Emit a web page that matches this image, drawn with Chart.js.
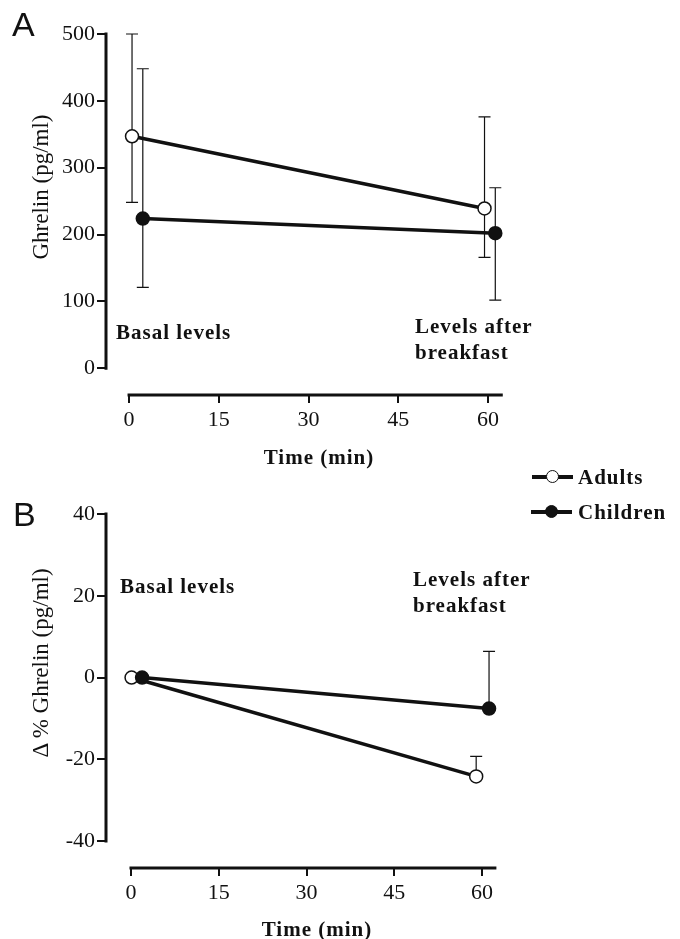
<!DOCTYPE html>
<html>
<head>
<meta charset="utf-8">
<script src="https://cdn.jsdelivr.net/npm/chart.js@4.4.1/dist/chart.umd.min.js"></script>
<style>
  body { margin: 0; background: #fff; }
  #page { position: relative; width: 680px; height: 939px; overflow: hidden; }
  canvas { position: absolute; left: 0; }
  #chartA { top: 0; }
  #chartB { top: 480px; }
  .txt { position: absolute; color: #111; white-space: nowrap; }
  .bold { font-family: "Liberation Serif", serif; font-weight: bold; font-size: 21px; letter-spacing: 1px; line-height: 26px; }
  .panel { font-family: "Liberation Sans", sans-serif; font-size: 34px; line-height: 1; }
  .ytitle { font-family: "Liberation Serif", serif; font-size: 23px; line-height: 1; transform: translate(-50%, -50%) rotate(-90deg); }
  .xtitle { transform: translateX(-50%); }
  .sym { position: absolute; width: 41px; height: 4px; background: #111; }
  .sym i { position: absolute; left: 14px; top: -5px; width: 11px; height: 11px; border: 1.5px solid #111; border-radius: 50%; box-sizing: content-box; }
</style>
</head>
<body>
<div id="page">
  <canvas id="chartA" width="680" height="480"></canvas>
  <canvas id="chartB" width="680" height="459"></canvas>

  <div class="txt panel" style="left:12px; top:7px;">A</div>
  <div class="txt panel" style="left:13px; top:497px;">B</div>

  <div class="txt ytitle" style="left:40px; top:187px;">Ghrelin (pg/ml)</div>
  <div class="txt ytitle" style="left:40px; top:663px;">Δ % Ghrelin (pg/ml)</div>

  <div class="txt bold xtitle" style="left:319px; top:444px;">Time (min)</div>
  <div class="txt bold xtitle" style="left:317px; top:916px;">Time (min)</div>

  <div class="txt bold" style="left:116px; top:319px;">Basal levels</div>
  <div class="txt bold" style="left:415px; top:313px;">Levels after<br>breakfast</div>
  <div class="txt bold" style="left:120px; top:573px;">Basal levels</div>
  <div class="txt bold" style="left:413px; top:566px;">Levels after<br>breakfast</div>

  <div class="sym" style="left:532px; top:475px;"><i style="background:#fff;"></i></div>
  <div class="txt bold" style="left:578px; top:464px;">Adults</div>
  <div class="sym" style="left:531px; top:510px;"><i style="background:#111;"></i></div>
  <div class="txt bold" style="left:578px; top:499px;">Children</div>
</div>

<script>
// Panel A: absolute ghrelin (pg/ml)
const timeAdultsA = [0.5, 59.4];
const ghrelinAdults = [347, 239];
const ghrelinAdultsHi = [500, 376];
const ghrelinAdultsLo = [248, 166];
const timeChildrenA = [2.3, 61.2];
const ghrelinChildren = [224, 202];
const ghrelinChildrenHi = [448, 270];
const ghrelinChildrenLo = [121, 102];

// Panel B: change from basal (%)
const timeAdultsB = [0.1, 59.0];
const deltaAdults = [0, -24.2];
const deltaAdultsHi = [null, -19.3];
const timeChildrenB = [1.9, 61.2];
const deltaChildren = [0, -7.6];
const deltaChildrenHi = [null, 6.4];

const timeTicks = [0, 15, 30, 45, 60];
const ghrelinTicks = [0, 100, 200, 300, 400, 500];
const deltaTicks = [-40, -20, 0, 20, 40];

const ink = '#111';
const toPoints = (xs, ys) => xs.map((x, i) => ({ x, y: ys[i] }));

const errorBars = {
  id: 'errorBars',
  beforeDatasetsDraw(chart) {
    const { ctx, scales: { x, y } } = chart;
    ctx.save();
    ctx.strokeStyle = ink;
    ctx.lineWidth = 1.2;
    chart.data.datasets.forEach((ds) => {
      ds.data.forEach((p, i) => {
        const hi = ds.errHi ? ds.errHi[i] : null;
        const lo = ds.errLo ? ds.errLo[i] : null;
        if (hi == null && lo == null) return;
        const px = x.getPixelForValue(p.x);
        const top = y.getPixelForValue(hi != null ? hi : p.y);
        const bot = y.getPixelForValue(lo != null ? lo : p.y);
        ctx.beginPath();
        ctx.moveTo(px, top);
        ctx.lineTo(px, bot);
        if (hi != null) { ctx.moveTo(px - 6, top); ctx.lineTo(px + 6, top); }
        if (lo != null) { ctx.moveTo(px - 6, bot); ctx.lineTo(px + 6, bot); }
        ctx.stroke();
      });
    });
    ctx.restore();
  },
};

const axisLines = {
  id: 'axisLines',
  afterDraw(chart, args, opts) {
    const { ctx, chartArea, scales: { x, y } } = chart;
    ctx.save();
    ctx.strokeStyle = ink;
    ctx.lineWidth = 3;
    ctx.lineCap = 'square';
    ctx.beginPath();
    ctx.moveTo(chartArea.left, y.getPixelForValue(opts.yFrom));
    ctx.lineTo(chartArea.left, y.getPixelForValue(opts.yTo));
    ctx.moveTo(x.getPixelForValue(opts.xFrom), chartArea.bottom);
    ctx.lineTo(x.getPixelForValue(opts.xTo), chartArea.bottom);
    ctx.stroke();
    ctx.restore();
  },
};

const series = (label, points, fill, extra) => Object.assign({
  label,
  data: points,
  borderColor: ink,
  borderWidth: 3.5,
  pointRadius: 6.5,
  pointBorderWidth: 1.5,
  pointBorderColor: ink,
  pointBackgroundColor: fill,
}, extra);

const makeOptions = (cfg) => ({
  responsive: false,
  animation: false,
  layout: { padding: { left: 0, top: 34, right: 150, bottom: 0 } },
  plugins: {
    legend: { display: false },
    tooltip: { enabled: false },
    axisLines: cfg.lines,
  },
  scales: {
    x: {
      type: 'linear',
      min: cfg.xMin,
      max: cfg.xMax,
      afterBuildTicks: (s) => { s.ticks = timeTicks.map((v) => ({ value: v })); },
      afterFit: (s) => { s.height = cfg.xAxisHeight; },
      grid: { drawOnChartArea: false, drawTicks: true, tickLength: 8, color: ink, lineWidth: 2 },
      border: { display: false },
      ticks: { font: { family: 'Liberation Serif', size: 22 }, color: ink, padding: 4, maxRotation: 0, autoSkip: false },
    },
    y: {
      min: cfg.yMin,
      max: cfg.yMax,
      afterBuildTicks: (s) => { s.ticks = cfg.yTicks.map((v) => ({ value: v })); },
      afterFit: (s) => { s.width = 106; },
      grid: { drawOnChartArea: false, drawTicks: true, tickLength: 9, color: ink, lineWidth: 2 },
      border: { display: false },
      ticks: { font: { family: 'Liberation Serif', size: 22 }, color: ink, padding: 2, autoSkip: false },
    },
  },
});

new Chart(document.getElementById('chartA'), {
  type: 'line',
  data: {
    datasets: [
      series('Children', toPoints(timeChildrenA, ghrelinChildren), ink, { errHi: ghrelinChildrenHi, errLo: ghrelinChildrenLo }),
      series('Adults', toPoints(timeAdultsA, ghrelinAdults), '#fff', { errHi: ghrelinAdultsHi, errLo: ghrelinAdultsLo }),
    ],
  },
  options: makeOptions({
    xMin: -3.85, xMax: 67.0, yMin: -40, yMax: 500, yTicks: ghrelinTicks, xAxisHeight: 85,
    lines: { yFrom: 0, yTo: 500, xFrom: 0, xTo: 62.2 },
  }),
  plugins: [errorBars, axisLines],
});

new Chart(document.getElementById('chartB'), {
  type: 'line',
  data: {
    datasets: [
      series('Children', toPoints(timeChildrenB, deltaChildren), ink, { errHi: deltaChildrenHi }),
      series('Adults', toPoints(timeAdultsB, deltaAdults), '#fff', { errHi: deltaAdultsHi }),
    ],
  },
  options: makeOptions({
    xMin: -4.27, xMax: 68.2, yMin: -46.6, yMax: 40, yTicks: deltaTicks, xAxisHeight: 71,
    lines: { yFrom: -40, yTo: 40, xFrom: 0, xTo: 62.2 },
  }),
  plugins: [errorBars, axisLines],
});
</script>
</body>
</html>
